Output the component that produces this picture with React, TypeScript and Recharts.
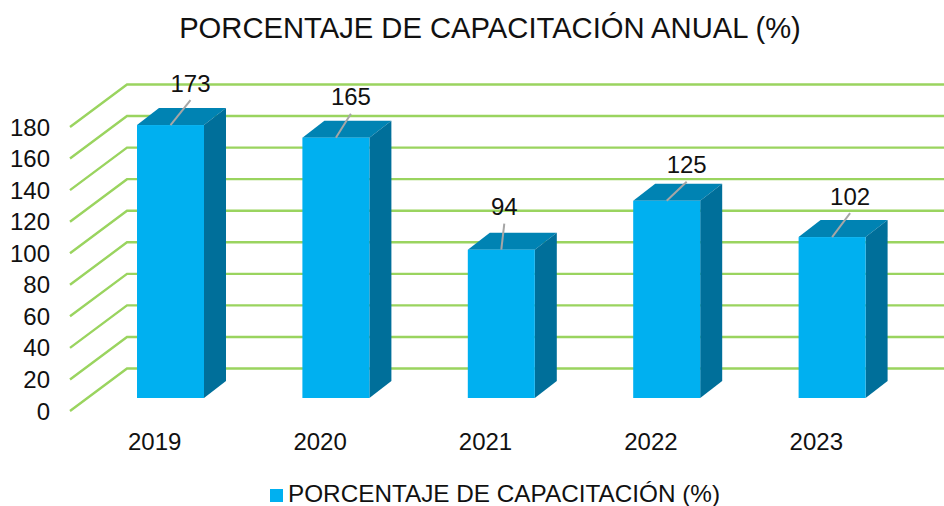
import { BarChart, Bar, XAxis, YAxis, CartesianGrid, Legend, LabelList } from "recharts";

const years = ["2019", "2020", "2021", "2022", "2023"];
const percentages = [173, 165, 94, 125, 102];
const yTicks = [0, 20, 40, 60, 80, 100, 120, 140, 160, 180];

const chartData = years.map((year, i) => ({ year, value: percentages[i] }));

const FONT = "'Liberation Sans', Arial, sans-serif";
const TEXT = "#111111";
const TICK_SIZE = 24;

// depth of the fake 3D
const DEPTH_X = 22;
const DEPTH_Y = 17;

// how far each data label was dragged from its bar in the original
const leaderShift = [20, 15, 3, 20, 18];
const leaderRise = [25, 24, 26, 19, 24];

const GridLine = ({ x2, y1 }: any) => (
  <polyline
    points={`70,${y1 + 13} 127,${y1 - 29.5} ${x2 + 40},${y1 - 29.5}`}
    fill="none"
    stroke="#9AD45F"
    strokeWidth={2.4}
  />
);

const Bar3D = ({ x, y, width, height }: any) => {
  const r = x + width;
  const b = y + height;
  return (
    <g>
      <polygon
        points={`${x},${y} ${x + DEPTH_X},${y - DEPTH_Y} ${r + DEPTH_X},${y - DEPTH_Y} ${r},${y}`}
        fill="#0083B3"
      />
      <polygon
        points={`${r},${y} ${r + DEPTH_X},${y - DEPTH_Y} ${r + DEPTH_X},${b - DEPTH_Y} ${r},${b}`}
        fill="#006F9A"
      />
      <rect x={x} y={y} width={width} height={height} fill="#00B0F0" />
    </g>
  );
};

const ValueLabel = ({ x, y, width, value, index }: any) => {
  const cx = x + width / 2;
  const shift = leaderShift[index];
  const rise = leaderRise[index];
  return (
    <g>
      <line x1={cx} y1={y} x2={cx + shift} y2={y - rise} stroke="#A6A6A6" strokeWidth={2} />
      <text
        x={cx + shift}
        y={y - rise - 17}
        textAnchor="middle"
        dominantBaseline="central"
        fontFamily={FONT}
        fontSize={TICK_SIZE}
        fill={TEXT}
      >
        {value}
      </text>
    </g>
  );
};

const YTick = ({ y, payload }: any) => (
  <text x={50} y={y + 13} textAnchor="end" dominantBaseline="central" fontFamily={FONT} fontSize={TICK_SIZE} fill={TEXT}>
    {payload.value}
  </text>
);

const XTick = ({ x, payload }: any) => (
  <text x={x - 16} y={441} textAnchor="middle" dominantBaseline="central" fontFamily={FONT} fontSize={TICK_SIZE} fill={TEXT}>
    {payload.value}
  </text>
);

const LegendRow = ({ payload }: any) => (
  <div style={{ display: "flex", alignItems: "center", marginLeft: 270, height: 27 }}>
    {(payload || []).map((item: any) => (
      <span key={item.value} style={{ display: "flex", alignItems: "center" }}>
        <span style={{ width: 13, height: 13, background: item.color, marginRight: 5, marginTop: 4 }} />
        <span style={{ color: TEXT, fontFamily: FONT, fontSize: 24.3, whiteSpace: "nowrap" }}>{item.value}</span>
      </span>
    ))}
  </div>
);

export default function App() {
  return (
    <div style={{ position: "absolute", left: 0, top: 0, width: 944, height: 506, background: "#fff", overflow: "hidden" }}>
      <div
        style={{
          position: "absolute",
          left: 0,
          top: 12,
          width: 980,
          textAlign: "center",
          fontFamily: FONT,
          fontSize: 29.2,
          color: TEXT,
          whiteSpace: "nowrap",
        }}
      >
        PORCENTAJE DE CAPACITACIÓN ANUAL (%)
      </div>
      <BarChart
        width={944}
        height={506}
        data={chartData}
        margin={{ top: 114, right: 29, left: 0, bottom: 21 }}
        style={{ overflow: "hidden" }}
      >
        <CartesianGrid vertical={false} horizontal={(props: any) => <GridLine key={props.index} {...props} />} />
        <XAxis dataKey="year" axisLine={false} tickLine={false} tick={<XTick />} height={60} interval={0} />
        <YAxis
          domain={[0, 180]}
          ticks={yTicks}
          interval={0}
          axisLine={false}
          tickLine={false}
          tick={<YTick />}
          width={88}
        />
        <Legend
          verticalAlign="bottom"
          content={<LegendRow />}
          wrapperStyle={{ left: 0, width: 944, bottom: -1 }}
        />
        <Bar
          dataKey="value"
          name="PORCENTAJE DE CAPACITACIÓN (%)"
          fill="#00B0F0"
          barSize={67}
          shape={<Bar3D />}
          isAnimationActive={false}
        >
          <LabelList dataKey="value" content={<ValueLabel />} />
        </Bar>
      </BarChart>
    </div>
  );
}
